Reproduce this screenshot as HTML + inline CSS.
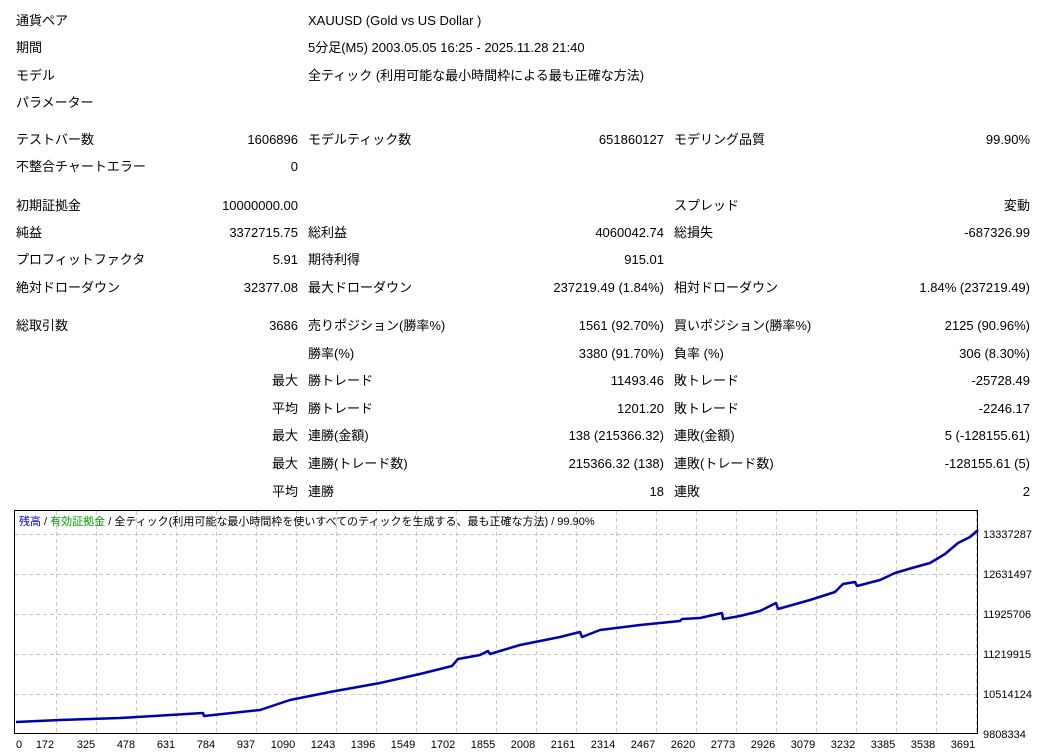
<!DOCTYPE html>
<html><head><meta charset="utf-8"><style>
body{margin:0;width:1052px;height:756px;background:#fff;position:relative;overflow:hidden;font-family:"Liberation Sans","Noto Sans CJK JP",sans-serif;font-size:13px;color:#000}
.t{position:absolute;white-space:nowrap;line-height:16px}
.r{text-align:right}
</style></head><body>
<div class="t" style="left:16px;top:13px">通貨ペア</div><div class="t" style="left:308px;top:13px">XAUUSD (Gold vs US Dollar )</div>
<div class="t" style="left:16px;top:40px">期間</div><div class="t" style="left:308px;top:40px">5分足(M5) 2003.05.05 16:25 - 2025.11.28 21:40</div>
<div class="t" style="left:16px;top:68px">モデル</div><div class="t" style="left:308px;top:68px">全ティック (利用可能な最小時間枠による最も正確な方法)</div>
<div class="t" style="left:16px;top:95px">パラメーター</div>

<div class="t" style="left:16px;top:132px">テストバー数</div><div class="t r" style="right:754px;top:132px">1606896</div>
<div class="t" style="left:308px;top:132px">モデルティック数</div><div class="t r" style="right:388px;top:132px">651860127</div>
<div class="t" style="left:674px;top:132px">モデリング品質</div><div class="t r" style="right:22px;top:132px">99.90%</div>
<div class="t" style="left:16px;top:159px">不整合チャートエラー</div><div class="t r" style="right:754px;top:159px">0</div>

<div class="t" style="left:16px;top:198px">初期証拠金</div><div class="t r" style="right:754px;top:198px">10000000.00</div>
<div class="t" style="left:674px;top:198px">スプレッド</div><div class="t r" style="right:22px;top:198px">変動</div>
<div class="t" style="left:16px;top:225px">純益</div><div class="t r" style="right:754px;top:225px">3372715.75</div>
<div class="t" style="left:308px;top:225px">総利益</div><div class="t r" style="right:388px;top:225px">4060042.74</div>
<div class="t" style="left:674px;top:225px">総損失</div><div class="t r" style="right:22px;top:225px">-687326.99</div>
<div class="t" style="left:16px;top:252px">プロフィットファクタ</div><div class="t r" style="right:754px;top:252px">5.91</div>
<div class="t" style="left:308px;top:252px">期待利得</div><div class="t r" style="right:388px;top:252px">915.01</div>
<div class="t" style="left:16px;top:280px">絶対ドローダウン</div><div class="t r" style="right:754px;top:280px">32377.08</div>
<div class="t" style="left:308px;top:280px">最大ドローダウン</div><div class="t r" style="right:388px;top:280px">237219.49 (1.84%)</div>
<div class="t" style="left:674px;top:280px">相対ドローダウン</div><div class="t r" style="right:22px;top:280px">1.84% (237219.49)</div>

<div class="t" style="left:16px;top:318px">総取引数</div><div class="t r" style="right:754px;top:318px">3686</div>
<div class="t" style="left:308px;top:318px">売りポジション(勝率%)</div><div class="t r" style="right:388px;top:318px">1561 (92.70%)</div>
<div class="t" style="left:674px;top:318px">買いポジション(勝率%)</div><div class="t r" style="right:22px;top:318px">2125 (90.96%)</div>
<div class="t" style="left:308px;top:346px">勝率(%)</div><div class="t r" style="right:388px;top:346px">3380 (91.70%)</div>
<div class="t" style="left:674px;top:346px">負率 (%)</div><div class="t r" style="right:22px;top:346px">306 (8.30%)</div>
<div class="t r" style="right:754px;top:373px">最大</div><div class="t" style="left:308px;top:373px">勝トレード</div><div class="t r" style="right:388px;top:373px">11493.46</div>
<div class="t" style="left:674px;top:373px">敗トレード</div><div class="t r" style="right:22px;top:373px">-25728.49</div>
<div class="t r" style="right:754px;top:401px">平均</div><div class="t" style="left:308px;top:401px">勝トレード</div><div class="t r" style="right:388px;top:401px">1201.20</div>
<div class="t" style="left:674px;top:401px">敗トレード</div><div class="t r" style="right:22px;top:401px">-2246.17</div>
<div class="t r" style="right:754px;top:428px">最大</div><div class="t" style="left:308px;top:428px">連勝(金額)</div><div class="t r" style="right:388px;top:428px">138 (215366.32)</div>
<div class="t" style="left:674px;top:428px">連敗(金額)</div><div class="t r" style="right:22px;top:428px">5 (-128155.61)</div>
<div class="t r" style="right:754px;top:456px">最大</div><div class="t" style="left:308px;top:456px">連勝(トレード数)</div><div class="t r" style="right:388px;top:456px">215366.32 (138)</div>
<div class="t" style="left:674px;top:456px">連敗(トレード数)</div><div class="t r" style="right:22px;top:456px">-128155.61 (5)</div>
<div class="t r" style="right:754px;top:484px">平均</div><div class="t" style="left:308px;top:484px">連勝</div><div class="t r" style="right:388px;top:484px">18</div>
<div class="t" style="left:674px;top:484px">連敗</div><div class="t r" style="right:22px;top:484px">2</div>

<svg style="position:absolute;left:0;top:0" width="1052" height="756" font-family="Liberation Sans, Noto Sans CJK JP, sans-serif" font-size="11">
<g stroke="#c8c8c8" stroke-dasharray="4,3" stroke-width="1">
<line x1="15" x2="977" y1="534.5" y2="534.5"/><line x1="15" x2="977" y1="574.5" y2="574.5"/><line x1="15" x2="977" y1="614.5" y2="614.5"/><line x1="15" x2="977" y1="654.5" y2="654.5"/><line x1="15" x2="977" y1="694.5" y2="694.5"/>
<g id="v"></g>
</g>
<g stroke="#c8c8c8" stroke-dasharray="4,3">
<line x1="56.5" x2="56.5" y1="511" y2="733"/><line x1="96.5" x2="96.5" y1="511" y2="733"/><line x1="136.5" x2="136.5" y1="511" y2="733"/><line x1="176.5" x2="176.5" y1="511" y2="733"/><line x1="216.5" x2="216.5" y1="511" y2="733"/><line x1="256.5" x2="256.5" y1="511" y2="733"/><line x1="296.5" x2="296.5" y1="511" y2="733"/><line x1="336.5" x2="336.5" y1="511" y2="733"/><line x1="376.5" x2="376.5" y1="511" y2="733"/><line x1="416.5" x2="416.5" y1="511" y2="733"/><line x1="456.5" x2="456.5" y1="511" y2="733"/><line x1="496.5" x2="496.5" y1="511" y2="733"/><line x1="536.5" x2="536.5" y1="511" y2="733"/><line x1="576.5" x2="576.5" y1="511" y2="733"/><line x1="616.5" x2="616.5" y1="511" y2="733"/><line x1="656.5" x2="656.5" y1="511" y2="733"/><line x1="696.5" x2="696.5" y1="511" y2="733"/><line x1="736.5" x2="736.5" y1="511" y2="733"/><line x1="776.5" x2="776.5" y1="511" y2="733"/><line x1="816.5" x2="816.5" y1="511" y2="733"/><line x1="856.5" x2="856.5" y1="511" y2="733"/><line x1="896.5" x2="896.5" y1="511" y2="733"/><line x1="936.5" x2="936.5" y1="511" y2="733"/><line x1="976.5" x2="976.5" y1="511" y2="733"/>
</g>
<rect x="14.5" y="510.5" width="963" height="223" fill="none" stroke="#000"/>
<text x="19" y="525" font-size="11"><tspan fill="#0000c8">残高</tspan><tspan fill="#000"> / </tspan><tspan fill="#00a000">有効証拠金</tspan><tspan fill="#000"> / 全ティック(利用可能な最小時間枠を使いすべてのティックを生成する、最も正確な方法) / 99.90%</tspan></text>
<polyline fill="none" stroke="#0000b0" stroke-width="2.5" stroke-linejoin="round" points="16,722 60,720 120,718 170,715 203,713 204,716 260,710 290,700 330,692 380,683 420,674 452,666 458,659 480,655 488,651 490,654 520,645 560,637 580,632 582,637 600,630 640,625 680,621 682,619 700,618 722,613 723,619 740,616 760,611 776,603 778,609 810,600 835,592 843,584 855,582 857,586 880,580 895,573 912,568 930,563 945,554 958,543 970,537 978,530"/>
<g fill="#000" font-size="11">
<text x="983" y="538">13337287</text><text x="983" y="578">12631497</text><text x="983" y="618">11925706</text><text x="983" y="658">11219915</text><text x="983" y="698">10514124</text><text x="983" y="738">9808334</text>
</g>
<g fill="#000" font-size="11" text-anchor="middle">
<text x="19" y="748">0</text><text x="45" y="748">172</text><text x="86" y="748">325</text><text x="126" y="748">478</text><text x="166" y="748">631</text><text x="206" y="748">784</text><text x="246" y="748">937</text><text x="283" y="748">1090</text><text x="323" y="748">1243</text><text x="363" y="748">1396</text><text x="403" y="748">1549</text><text x="443" y="748">1702</text><text x="483" y="748">1855</text><text x="523" y="748">2008</text><text x="563" y="748">2161</text><text x="603" y="748">2314</text><text x="643" y="748">2467</text><text x="683" y="748">2620</text><text x="723" y="748">2773</text><text x="763" y="748">2926</text><text x="803" y="748">3079</text><text x="843" y="748">3232</text><text x="883" y="748">3385</text><text x="923" y="748">3538</text><text x="963" y="748">3691</text>
</g>
</svg>
</body></html>
